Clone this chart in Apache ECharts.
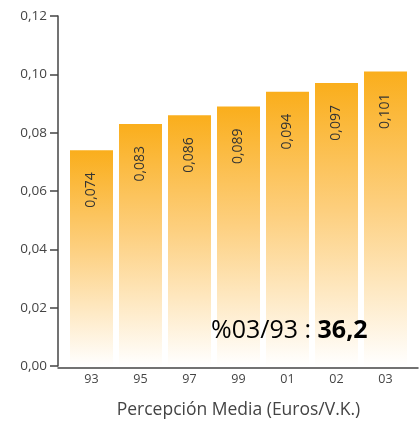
<!DOCTYPE html>
<html>
<head>
<meta charset="utf-8">
<script src="https://cdn.jsdelivr.net/npm/echarts@6/dist/echarts.min.js"></script>
<style>
  html, body { margin: 0; padding: 0; background: #fff; }
  #main { width: 419px; height: 424px; }
</style>
</head>
<body>
<div id="main"></div>
<script>
var years = ['93', '95', '97', '99', '01', '02', '03'];
var values = [0.074, 0.083, 0.086, 0.089, 0.094, 0.097, 0.101];

var font = '"Open Sans", "Noto Sans", sans-serif';

var myChart = echarts.init(document.getElementById('main'));
var option = {
    animation: false,
    textStyle: { fontFamily: font },
    grid: [
        { left: 67, right: 9, top: 16, bottom: 56 },
        { left: 58, right: 1, top: 16, bottom: 56 }
    ],
    xAxis: [
        {
            type: 'category',
            gridIndex: 0,
            data: years,
            axisLine: { show: false },
            axisTick: { show: false },
            axisLabel: { color: '#444', fontSize: 12.5, margin: 7 },
            name: 'Percepción Media (Euros/V.K.)',
            nameLocation: 'middle',
            nameGap: 35,
            nameTextStyle: { color: '#444', fontSize: 17.5 }
        },
        {
            type: 'value',
            gridIndex: 1,
            min: 0, max: 1,
            axisLine: { show: true, lineStyle: { color: '#444', width: 1.5 } },
            axisTick: { show: false },
            axisLabel: { show: false },
            splitLine: { show: false }
        }
    ],
    yAxis: [
        {
            type: 'value',
            gridIndex: 0,
            min: 0,
            max: 0.12,
            interval: 0.02,
            offset: 9,
            axisLine: { show: true, lineStyle: { color: '#444', width: 1.5 } },
            axisTick: { show: true, length: 8, lineStyle: { color: '#444', width: 1.5 } },
            axisLabel: {
                color: '#444',
                fontSize: 13.5,
                margin: 11,
                formatter: function (v) { return v.toFixed(2).replace('.', ','); }
            },
            splitLine: { show: false }
        },
        {
            type: 'value',
            gridIndex: 1,
            show: false
        }
    ],
    series: [
        {
            type: 'bar',
            xAxisIndex: 0,
            yAxisIndex: 0,
            data: values,
            barWidth: 43,
            itemStyle: {
                color: new echarts.graphic.LinearGradient(0, 0, 0, 1, [
                    { offset: 0, color: '#FAAE1C' },
                    { offset: 0.45, color: '#FDCF7E' },
                    { offset: 1, color: '#FFFFFF' }
                ])
            },
            label: {
                show: true,
                position: 'insideTop',
                rotate: 90,
                align: 'right',
                verticalAlign: 'middle',
                distance: 22,
                color: '#333',
                fontSize: 14,
                formatter: function (p) { return p.value.toFixed(3).replace('.', ','); }
            }
        }
    ],
    graphic: [
        {
            type: 'text',
            left: 211,
            top: 318,
            z: 100,
            style: {
                text: '{a|%03/93 : }{b|36,2}',
                rich: {
                    a: { fontSize: 25, color: '#222', fontFamily: font },
                    b: { fontSize: 25, color: '#222', fontWeight: 'bold', fontFamily: font }
                }
            }
        }
    ]
};
myChart.setOption(option);
</script>
</body>
</html>
